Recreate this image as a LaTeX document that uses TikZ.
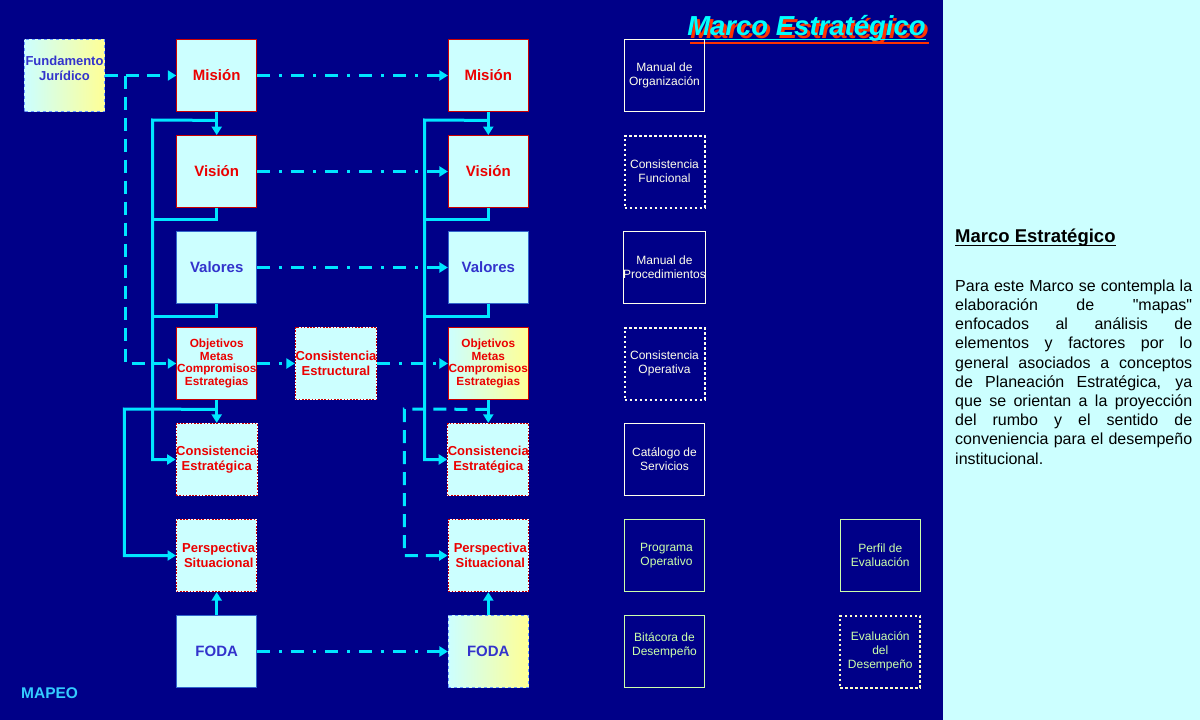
\documentclass[tikz,border=0pt]{standalone}
\usepackage{fontspec}
\setmainfont{Liberation Sans}[Ligatures=TeXOff]
\usetikzlibrary{arrows.meta}
\definecolor{navybg}{RGB}{0,0,136}
\definecolor{pale}{RGB}{204,255,255}
\definecolor{paleyel}{RGB}{255,255,150}
\definecolor{boxred}{RGB}{204,0,0}
\definecolor{txtred}{RGB}{235,0,0}
\definecolor{txtblue}{RGB}{51,51,204}
\definecolor{bordblue}{RGB}{51,102,204}
\definecolor{bordlight}{RGB}{102,153,255}
\definecolor{conn}{RGB}{0,230,255}
\definecolor{lgreen}{RGB}{204,255,170}
\definecolor{offwhite}{RGB}{255,255,235}
\definecolor{offyellow}{RGB}{255,255,200}
\definecolor{mapeoc}{RGB}{51,204,255}
\definecolor{titlecyan}{RGB}{0,255,255}
\definecolor{titlered}{RGB}{255,51,0}
\tikzset{
  box/.style={rectangle, minimum width=80pt, minimum height=72pt, inner sep=0pt, align=center},
  cyanbox/.style={box, fill=pale},
  redframe/.style={draw=boxred, line width=0.8pt},
  blueframe/.style={draw=bordblue, line width=0.8pt},
  reddots/.style={draw=white, line width=1.3pt, postaction={draw=boxred, line width=1.3pt, dash pattern=on 1.6pt off 1.6pt}},
  grad/.style={left color=pale, right color=paleyel},
  bigred/.style={text=txtred, font=\bfseries\fontsize{15}{18}\selectfont},
  bigblue/.style={text=txtblue, font=\bfseries\fontsize{15}{18}\selectfont},
  midred/.style={text=txtred, font=\bfseries\fontsize{13}{15.5}\selectfont},
  smallred/.style={text=txtred, font=\bfseries\fontsize{11.8}{12.7}\selectfont},
  docbox/.style={box, font=\fontsize{12}{14}\selectfont},
  wsolid/.style={docbox, draw=offwhite, line width=1pt, text=offwhite},
  wdots/.style={docbox, draw=offwhite, line width=2pt, dash pattern=on 2.5pt off 2.5pt, text=offwhite},
  gsolid/.style={docbox, draw=lgreen, line width=1pt, text=lgreen},
  gdots/.style={docbox, draw=offyellow, line width=2pt, dash pattern=on 2.5pt off 2.5pt, text=lgreen},
  joinline/.style={draw=conn, line width=3pt},
  joinarrow/.style={joinline, -{Triangle[length=8.5pt,width=10pt]}},
  dashlink/.style={joinarrow, dash pattern=on 13pt off 8pt},
  dotdashlink/.style={joinarrow, dash pattern=on 13pt off 9pt on 3pt off 9pt},
  titlefont/.style={font=\bfseries\itshape\fontsize{27.5}{32}\selectfont},
}
\begin{document}
\begin{tikzpicture}[x=1pt,y=-1pt]
\useasboundingbox (0,0) rectangle (1200,720);
\fill[navybg] (0,0) rectangle (943,720);
\fill[pale] (943,0) rectangle (1200,720);

% title
\node[anchor=base, inner sep=0, text=titlered, titlefont] (ttlsh) at (809.5,38) {Marco Estratégico};
\draw[titlered, line width=1.4pt] ([yshift=-5pt]ttlsh.base west) -- ([yshift=-5pt]ttlsh.base east);
\node[anchor=base, inner sep=0, text=titlecyan, titlefont] (ttl) at (806.5,35.5) {Marco Estratégico};
\draw[titlecyan, line width=1.2pt] ([yshift=-4.3pt]ttl.base west) -- ([yshift=-4.3pt]ttl.base east);

% MAPEO
\node[anchor=base west, inner sep=0, text=mapeoc, font=\bfseries\fontsize{15.5}{18}\selectfont] (mapeo) at (21,698) {MAPEO};

% Fundamento
\node[cyanbox, grad, draw=bordlight, dashed, line width=0.8pt, text=txtblue, font=\bfseries\fontsize{13}{15}\selectfont] (fund) at (64.5,75.5) {Fundamento\\Jurídico\\\phantom{J}};

% column A
\node[cyanbox, redframe, bigred] (misA) at (216.7,75.5) {Misión};
\node[cyanbox, redframe, bigred] (visA) at (216.7,171.5) {Visión};
\node[cyanbox, blueframe, bigblue] (valA) at (216.7,267.5) {Valores};
\node[cyanbox, redframe, smallred] (objA) at (216.7,363.5) {Objetivos\\Metas\\Compromisos\\Estrategias};
\node[cyanbox, reddots, midred] (ceA) at (216.7,459.5) {Consistencia\\Estratégica};
\node[cyanbox, reddots, midred] (psA) at (216.7,555.5) {\hspace*{4pt}Perspectiva\\\hspace*{4pt}Situacional};
\node[cyanbox, blueframe, bigblue] (fodaA) at (216.7,651.5) {FODA};

% middle
\node[cyanbox, reddots, midred] (cest) at (336,363.5) {Consistencia\\Estructural};

% column B
\node[cyanbox, redframe, bigred] (misB) at (488.3,75.5) {Misión};
\node[cyanbox, redframe, bigred] (visB) at (488.3,171.5) {Visión};
\node[cyanbox, blueframe, bigblue] (valB) at (488.3,267.5) {Valores};
\node[cyanbox, grad, redframe, smallred] (objB) at (488.3,363.5) {Objetivos\\Metas\\Compromisos\\Estrategias};
\node[cyanbox, reddots, midred] (ceB) at (488.3,459.5) {Consistencia\\Estratégica};
\node[cyanbox, reddots, midred] (psB) at (488.3,555.5) {\hspace*{4pt}Perspectiva\\\hspace*{4pt}Situacional};
\node[cyanbox, grad, draw=bordlight, dashed, line width=0.8pt, bigblue] (fodaB) at (488.3,651.5) {FODA};

% column C
\node[wsolid] (mo) at (664.5,75.5) {Manual de\\Organización};
\node[wdots] (cf) at (664.5,171.5) {Consistencia\\Funcional};
\node[wsolid] (mp) at (664.5,267.5) {Manual de\\Procedimientos};
\node[wdots] (co) at (664.5,363.5) {Consistencia\\Operativa};
\node[wsolid] (cs) at (664.5,459.5) {Catálogo de\\Servicios};
\node[gsolid] (po) at (664.5,555.5) {\hspace*{4pt}Programa\\\hspace*{4pt}Operativo};
\node[gsolid] (bd) at (664.5,651.5) {Bitácora de\\Desempeño\\\phantom{D}};

% column D
\node[gsolid] (pe) at (880.3,555.5) {Perfil de\\Evaluación};
\node[gdots] (ed) at (880.3,651.5) {Evaluación\\del\\Desempeño};

% dashed links from Fundamento
\draw[dashlink] (fund.east) -- (misA.west);
\coordinate (fj) at (125.5,75.5);
\draw[dashlink] (fj) |- (objA.west);

% dash-dot links between columns
\draw[dotdashlink] (misA.east) -- (misB.west);
\draw[dotdashlink] (visA.east) -- (visB.west);
\draw[dotdashlink] (valA.east) -- (valB.west);
\draw[dotdashlink] (objA.east) -- (cest.west);
\draw[dotdashlink] (cest.east) -- (objB.west);
\draw[dotdashlink] (fodaA.east) -- (fodaB.west);

% column A solid links
\coordinate (la1) at (152.5,120);
\coordinate (lb1) at (124.3,409);
\draw[joinarrow] (misA.south) -- (visA.north);
\draw[joinline] (visA.south) -- ++(0,12) -| (la1);
\draw[joinline] (valA.south) -- ++(0,13) -| (la1);
\draw[joinarrow] ([yshift=-8.5pt]misA.south) -- (la1) |- (ceA.west);
\draw[joinarrow] (objA.south) -- (ceA.north);
\draw[joinarrow] ([yshift=-9.5pt]objA.south) -- (lb1) |- (psA.west);
\draw[joinarrow] (fodaA.north) -- (psA.south);

% column B links
\coordinate (la2) at (424.5,120);
\coordinate (lb2) at (404.3,409);
\draw[joinarrow] (misB.south) -- (visB.north);
\draw[joinline] (visB.south) -- ++(0,12) -| (la2);
\draw[joinline] (valB.south) -- ++(0,13) -| (la2);
\draw[joinarrow] ([yshift=-8.5pt]misB.south) -- (la2) |- (ceB.west);
\draw[joinarrow] (objB.south) -- (ceB.north);
\draw[dashlink] ([yshift=-9.5pt]objB.south) -- (lb2) |- (psB.west);
\draw[joinarrow] (fodaB.north) -- (psB.south);

% right panel
\node[anchor=base west, inner sep=0, font=\bfseries\fontsize{18.5}{21}\selectfont] (rhead) at (955,242) {Marco Estratégico};
\draw[line width=1.2pt] ([yshift=-3.5pt]rhead.base west) -- ([yshift=-3.5pt]rhead.base east);
\node[anchor=north west, inner sep=0, text width=237pt, align=justify, font=\fontsize{16}{19.2}\selectfont] (rpar) at (955,279.5) {Para este Marco se contempla la\linebreak elaboración de "mapas"\linebreak enfocados al análisis de\linebreak elementos y factores por lo\linebreak general asociados a conceptos\linebreak de Planeación Estratégica, ya\linebreak que se orientan a la proyección\linebreak del rumbo y el sentido de\linebreak conveniencia para el desempeño\linebreak institucional.};
\end{tikzpicture}
\end{document}
